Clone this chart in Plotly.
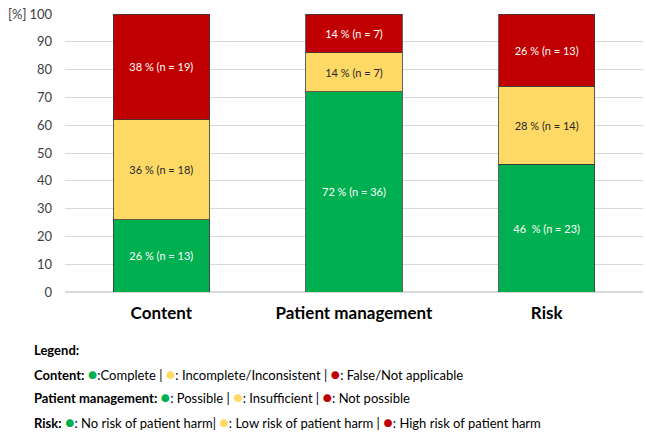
import plotly.graph_objects as go

categories = ['Content', 'Patient management', 'Risk']

green_pct = [26, 72, 46]
green_n = [13, 36, 23]
yellow_pct = [36, 14, 28]
yellow_n = [18, 7, 14]
red_pct = [38, 14, 26]
red_n = [19, 7, 13]

green_txt = ['26 % (n = 13)', '72 % (n = 36)', '46  % (n = 23)']
yellow_txt = [f'{p} % (n = {n})' for p, n in zip(yellow_pct, yellow_n)]
red_txt = [f'{p} % (n = {n})' for p, n in zip(red_pct, red_n)]

GREEN = '#00B050'
YELLOW = '#FFD966'
RED = '#C00000'
FONT = 'Lato, Open Sans, sans-serif'

W, H = 646, 437
L, R, T, B = 64.5, 2.5, 14, 145


def bar(vals, txt, color, txtcolor):
    return go.Bar(
        x=categories, y=vals, text=txt, textposition='inside',
        insidetextanchor='middle', textangle=0,
        textfont=dict(family=FONT, size=11, color=txtcolor),
        marker=dict(color=color, line=dict(color='#3a3a3a', width=0.8)),
        width=0.5, hoverinfo='skip', showlegend=False,
    )


fig = go.Figure([
    bar(green_pct, green_txt, GREEN, 'white'),
    bar(yellow_pct, yellow_txt, YELLOW, '#262626'),
    bar(red_pct, red_txt, RED, 'white'),
])

fig.update_layout(
    width=W, height=H, barmode='stack',
    margin=dict(l=L, r=R, t=T, b=B, pad=0),
    plot_bgcolor='white', paper_bgcolor='white',
    font=dict(family=FONT),
    uniformtext=dict(mode=False),
)
fig.update_yaxes(
    range=[0, 100], dtick=10, showgrid=True, gridcolor='#D9D9D9', gridwidth=1,
    zeroline=True, zerolinecolor='#D9D9D9', showline=False, automargin=False,
    tickfont=dict(family=FONT, size=13, color='#404040'), ticklabelstandoff=12,
)
fig.update_xaxes(
    showline=False, automargin=False,
    tickfont=dict(family=FONT, size=17, color='black'),
    tickprefix='<b>', ticksuffix='</b>', ticklabelstandoff=9,
)


def py(pix):
    return (H - B - pix) / (H - T - B)


def px(pix):
    return (pix - L) / (W - L - R)


def dot(c):
    return f'<span style="color:{c};font-size:16px">●</span>'


fig.add_annotation(text='[%]', x=px(5), y=py(14), xref='paper', yref='paper',
                   xanchor='left', yanchor='middle', showarrow=False,
                   font=dict(family=FONT, size=13, color='#404040'))

lines = [
    (350, '<b>Legend:</b>'),
    (373, f'<b>Content:</b> {dot(GREEN)}:Complete | {dot(YELLOW)}: Incomplete/Inconsistent | {dot(RED)}: False/Not applicable'),
    (397, f'<b>Patient management:</b> {dot(GREEN)}: Possible | {dot(YELLOW)}: Insufficient | {dot(RED)}: Not possible'),
    (421, f'<b>Risk:</b> {dot(GREEN)}: No risk of patient harm| {dot(YELLOW)}: Low risk of patient harm | {dot(RED)}: High risk of patient harm'),
]
for ypix, t in lines:
    fig.add_annotation(text=t, x=px(31), y=py(ypix), xref='paper', yref='paper',
                       xanchor='left', yanchor='middle', showarrow=False,
                       font=dict(family=FONT, size=13, color='black'))

fig.write_html('out.html', config={'displayModeBar': False},
               post_script="document.body.style.margin='0';")
